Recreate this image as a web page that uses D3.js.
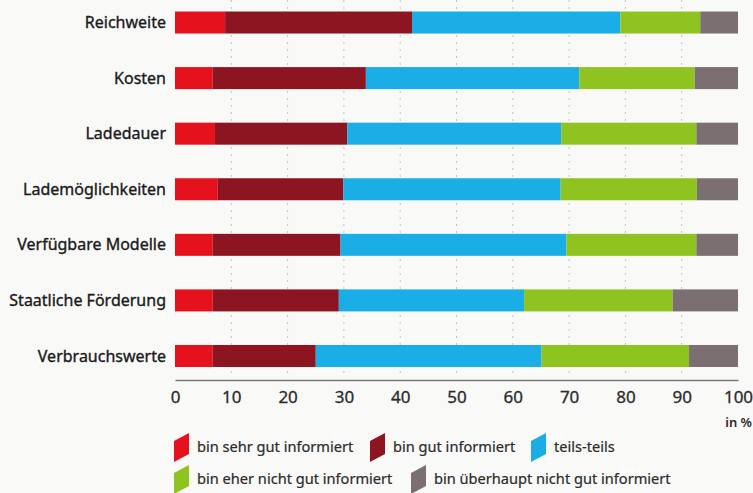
<!DOCTYPE html>
<html>
<head>
<meta charset="utf-8">
<script src="https://cdn.jsdelivr.net/npm/d3@7"></script>
<style>
  html, body { margin: 0; padding: 0; background: #f9f9f8; }
  svg { display: block; font-family: "Noto Sans", sans-serif; }
</style>
</head>
<body>
<svg width="753" height="493"></svg>
<script>
// Daten (in %)
const categories = ["Reichweite", "Kosten", "Ladedauer", "Lademöglichkeiten",
                    "Verfügbare Modelle", "Staatliche Förderung", "Verbrauchswerte"];
const sehrGut     = [8.9, 6.7, 7.1, 7.6, 6.7, 6.7, 6.7];
const gut         = [33.2, 27.2, 23.5, 22.3, 22.7, 22.4, 18.3];
const teilsTeils  = [37.0, 37.9, 38.0, 38.6, 40.1, 32.9, 40.1];
const eherNicht   = [14.2, 20.5, 24.0, 24.2, 23.1, 26.4, 26.2];
const ueberhaupt  = [6.7, 7.7, 7.4, 7.3, 7.4, 11.6, 8.7];
const tickValues  = [0, 10, 20, 30, 40, 50, 60, 70, 80, 90, 100];
const seriesNames = ["bin sehr gut informiert", "bin gut informiert", "teils-teils",
                     "bin eher nicht gut informiert", "bin überhaupt nicht gut informiert"];
const colors = ["#e5111d", "#8d1522", "#1badE5", "#8fc320", "#7b6f71"];

const svg = d3.select("svg");

const rows = categories.map((c, i) => ({
    cat: c, s0: sehrGut[i], s1: gut[i], s2: teilsTeils[i], s3: eherNicht[i], s4: ueberhaupt[i]
}));
const keys = ["s0", "s1", "s2", "s3", "s4"];
const stacked = d3.stack().keys(keys)(rows);

const x = d3.scaleLinear().domain([0, 100]).range([175, 738]);
const y = d3.scaleBand().domain(categories).range([0.4, 378.1])
            .paddingInner(0.604).paddingOuter(0.2);
const color = d3.scaleOrdinal().domain(keys).range(colors);

// Gitterlinien (gestrichelt, sehr hell)
svg.append("g")
   .selectAll("line")
   .data(tickValues.slice(1, -1))
   .enter()
   .append("line")
   .attr("x1", d => x(d)).attr("x2", d => x(d))
   .attr("y1", 0).attr("y2", 378)
   .attr("stroke", "#c4c4c4")
   .attr("stroke-width", 1)
   .attr("stroke-dasharray", "2,5");

// Balken
svg.append("g")
   .selectAll("g")
   .data(stacked)
   .enter()
   .append("g")
   .attr("fill", d => color(d.key))
   .selectAll("rect")
   .data(d => d)
   .enter()
   .append("rect")
   .attr("x", d => x(d[0]))
   .attr("width", d => x(d[1]) - x(d[0]))
   .attr("y", d => y(d.data.cat))
   .attr("height", y.bandwidth());

// Kategorien
svg.append("g")
   .selectAll("text")
   .data(categories)
   .enter()
   .append("text")
   .attr("x", 166)
   .attr("y", d => y(d) + y.bandwidth() / 2)
   .attr("dy", "0.35em")
   .attr("text-anchor", "end")
   .attr("font-size", 16)
   .attr("fill", "#1a1a1a")
   .attr("stroke", "#1a1a1a")
   .attr("stroke-width", 0.35)
   .text(d => d);

// x-Achse
const axis = svg.append("g")
   .attr("transform", "translate(0,380)")
   .call(d3.axisBottom(x).tickValues(tickValues).tickSize(0).tickPadding(11));
axis.select(".domain").attr("stroke", "#7a7a7a").attr("stroke-width", 1.5);
axis.selectAll("text").attr("font-size", 17).attr("fill", "#2b2b2b")
    .attr("stroke", "#2b2b2b").attr("stroke-width", 0.3)
    .attr("font-family", "Noto Sans, sans-serif");

svg.append("text")
   .attr("x", 752).attr("y", 427)
   .attr("text-anchor", "end")
   .attr("font-size", 13)
   .attr("font-weight", 600)
   .attr("fill", "#2b2b2b")
   .text("in %");

// Legende
const legendPos = [
    { x: 174, y: 447 }, { x: 370, y: 447 }, { x: 531, y: 447 },
    { x: 174, y: 479 }, { x: 411, y: 479 }
];
const legend = svg.append("g")
   .selectAll("g")
   .data(seriesNames)
   .enter()
   .append("g")
   .attr("transform", (d, i) => `translate(${legendPos[i].x},${legendPos[i].y})`);

legend.append("path")
   .attr("d", "M0,-6 L15,-14 L15,7 L0,15 Z")
   .attr("fill", (d, i) => colors[i]);

legend.append("text")
   .attr("x", 23)
   .attr("dy", "0.35em")
   .attr("font-size", 14.6)
   .attr("fill", "#2b2b2b")
   .attr("stroke", "#2b2b2b")
   .attr("stroke-width", 0.2)
   .text(d => d);
</script>
</body>
</html>
